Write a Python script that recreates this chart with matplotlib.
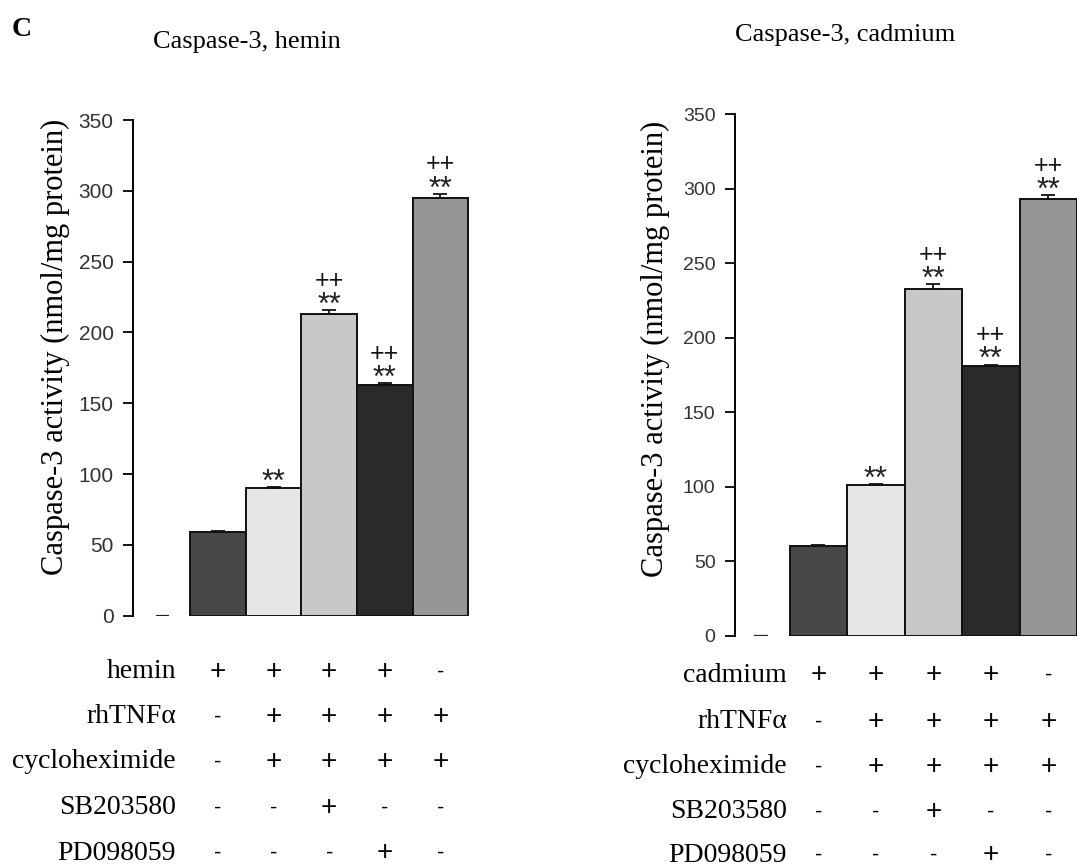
import matplotlib
matplotlib.use("Agg")
import matplotlib.pyplot as plt
import matplotlib.transforms as mtransforms

# bar positions: 0 is the blank (zero) slot, 1-5 are the treatments
positions = [1, 2, 3, 4, 5]
hemin_values = [59, 90, 213, 163, 295]
hemin_errors = [1, 1, 3, 1.5, 3]
cadmium_values = [60, 101, 233, 181, 293]
cadmium_errors = [1, 1, 3, 1, 3]
blank_value = [0]

stars = ["", "**", "**", "**", "**"]
pluses = ["", "", "++", "++", "++"]

bar_colors = ["#474747", "#e6e6e6", "#c8c8c8", "#2a2a2a", "#969696"]

row_names_hemin = ["hemin", "rhTNFα", "cycloheximide", "SB203580", "PD098059"]
row_names_cadmium = ["cadmium", "rhTNFα", "cycloheximide", "SB203580", "PD098059"]
row_signs = [
    ["+", "+", "+", "+", "-"],
    ["-", "+", "+", "+", "+"],
    ["-", "+", "+", "+", "+"],
    ["-", "-", "+", "-", "-"],
    ["-", "-", "-", "+", "-"],
]

W, H = 1077, 868
fig = plt.figure(figsize=(W / 100, H / 100), dpi=100)

SERIF = "Liberation Serif"
SANS = "Liberation Sans"


def draw_panel(rect, xlim, values, errors, title, title_xy, row_names,
               label_x, row_ys, ylabel_xy, tick_size):
    ax = fig.add_axes(rect)
    ax.bar(positions, values, width=1.0, color=bar_colors,
           edgecolor="#111111", linewidth=1.4, zorder=2)
    ax.errorbar(positions, values, yerr=[[0] * 5, errors], fmt="none",
                ecolor="#111111", elinewidth=1.3, capsize=5, capthick=1.3,
                zorder=3)
    ax.bar([0], blank_value, width=0.25, color="none",
           edgecolor="#222222", linewidth=1.6)
    ax.set_xlim(*xlim)
    ax.set_ylim(0, 350)
    ax.set_yticks(range(0, 351, 50))
    ax.set_xticks([])
    for s in ["top", "right", "bottom"]:
        ax.spines[s].set_visible(False)
    ax.spines["left"].set_linewidth(1.4)
    ax.tick_params(axis="y", direction="out", length=7, width=1.3, pad=7,
                   labelsize=tick_size, labelcolor="#333333")
    for lbl in ax.get_yticklabels():
        lbl.set_fontfamily(SANS)

    for x, v, e, s, p in zip(positions, values, errors, stars, pluses):
        if s:
            ax.annotate(s, (x, v + e), xytext=(0, 3), textcoords="offset points",
                        ha="center", va="center", fontsize=22,
                        family=SANS, color="#222222")
        if p:
            ax.annotate(p, (x, v + e), xytext=(0, 21), textcoords="offset points",
                        ha="center", va="center", fontsize=18,
                        family=SANS, color="#111111")

    fig.text(title_xy[0] / W, 1 - title_xy[1] / H, title, ha="center",
             va="center", fontsize=19, family=SERIF)
    fig.text(ylabel_xy[0] / W, 1 - ylabel_xy[1] / H,
             "Caspase-3 activity (nmol/mg protein)", rotation=90,
             ha="center", va="center", fontsize=22, family=SERIF)

    trans = mtransforms.blended_transform_factory(ax.transData, fig.transFigure)
    for name, signs, yy in zip(row_names, row_signs, row_ys):
        fy = 1 - yy / H
        fig.text(label_x / W, fy, name, ha="right", va="center",
                 fontsize=20, family=SERIF)
        for x, sg in zip(positions, signs):
            ax.text(x, fy, sg, transform=trans, ha="center", va="center",
                    fontsize=20 if sg == "+" else 16, family=SANS,
                    clip_on=False)
    return ax


draw_panel([133 / W, 1 - 615.7 / H, 338 / W, 495.7 / H], (-0.53, 5.55),
           hemin_values, hemin_errors, "Caspase-3, hemin", (247, 42),
           row_names_hemin, 176, [671.7, 716.7, 761.7, 808, 853], (55, 347),
           15)

draw_panel([735 / W, 1 - 635.7 / H, 342 / W, 521.4 / H], (-0.45, 5.5),
           cadmium_values, cadmium_errors, "Caspase-3, cadmium", (845, 35),
           row_names_cadmium, 787, [675, 721.7, 766.7, 811.7, 855], (655, 349),
           14)

fig.text(22 / W, 1 - 30 / H, "C", ha="center", va="center", fontsize=20,
         fontweight="bold", family=SERIF)

fig.savefig("out.png", dpi=100)
